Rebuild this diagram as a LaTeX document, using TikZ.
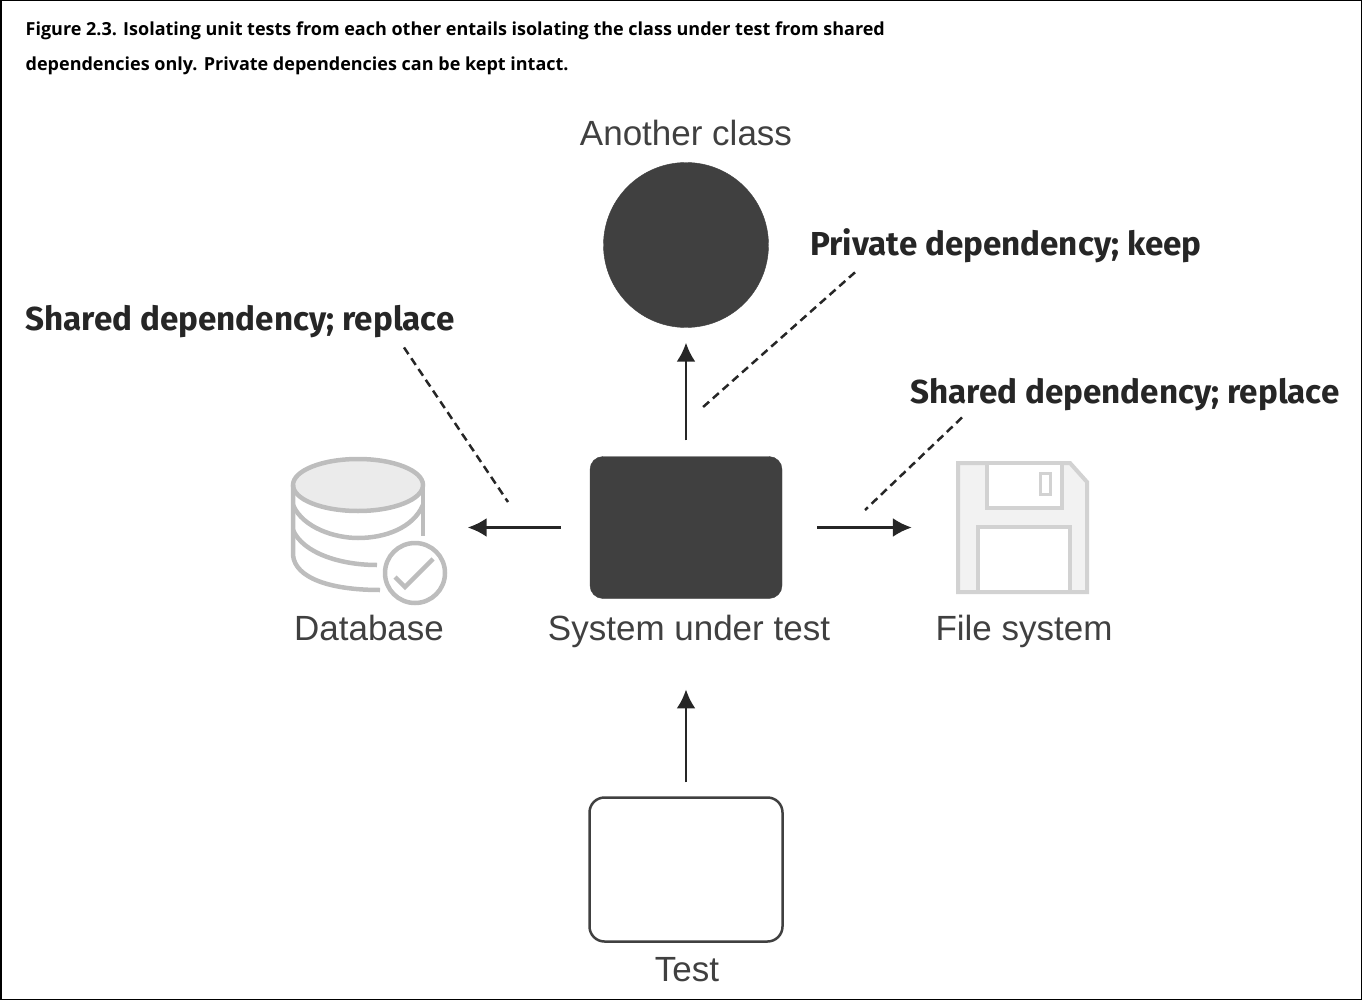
\documentclass[tikz,border=0pt]{standalone}
\usepackage{fontspec}
\setmainfont{Liberation Sans}
\newfontfamily\captionfont{Open Sans}
\newfontfamily\notefont{Fira Sans}
\usetikzlibrary{positioning}
\usetikzlibrary{arrows.meta}
\definecolor{darkfill}{HTML}{404040}
\definecolor{dbgrey}{HTML}{BDBDBD}
\definecolor{floppygrey}{HTML}{D2D2D2}
\tikzset{
  solidbox/.style={draw=darkfill, fill=darkfill, rounded corners=13pt, minimum width=192pt, minimum height=142pt, inner sep=0pt},
  emptybox/.style={draw=darkfill, line width=2.5pt, fill=white, rounded corners=15pt, minimum width=193pt, minimum height=144pt, inner sep=0pt},
  iconspace/.style={inner sep=0pt, minimum width=155pt, minimum height=145pt},
  caption/.style={inner sep=0pt, anchor=base west, font=\captionfont\bfseries\fontsize{18pt}{22pt}\selectfont},
  label/.style={inner sep=0pt, anchor=base, text=darkfill, font=\fontsize{35pt}{38pt}\selectfont},
  note/.style={inner sep=0pt, text=black!85, font=\notefont\bfseries\fontsize{33.2pt}{38pt}\selectfont},
  arrow/.style={draw=black!85, line width=2.5pt, -{Latex[length=19pt,width=19pt]}},
  leader/.style={draw=black!85, line width=2.5pt, dash pattern=on 8pt off 5pt},
}
\begin{document}
\begin{tikzpicture}[x=1pt,y=-1pt]
  \useasboundingbox (0,0) rectangle (1362,1000);
  \draw [black, line width=1.5pt] (0.75,0.75) rectangle (1361.25,999.25);
  % caption
  \node [caption] (captiontop) at (25.5,36) {Figure 2.3. Isolating unit tests from each other entails isolating the class under test from shared};
  \node [caption] (captionbottom) at (25.5,71) {dependencies only. Private dependencies can be kept intact.};
  % classes
  \node [circle, draw=darkfill, fill=darkfill, minimum size=165pt, inner sep=0pt] (another) at (686,245) {};
  \node [label] (anotherlabel) at (686,146) {Another class};
  \node [solidbox] (sut) at (686,527.5) {};
  \node [label] (sutlabel) at (689,640) {System under test};
  \node [emptybox] (test) at (686,869.5) {};
  \node [label] (testlabel) at (687,981) {Test};
  \node [iconspace] (database) at (369,530) {};
  \node [label] (databaselabel) at (369,640) {Database};
  \node [iconspace, minimum width=130pt] (files) at (1023,527.5) {};
  \node [label] (fileslabel) at (1024,640) {File system};
  % database icon
  \begin{scope}[draw=dbgrey, line width=4.5pt]
    \draw [fill=black!8] (358,485) ellipse (65 and 26);
    \draw (293,485) -- (293,555) .. controls (295,578) and (330,590) .. (380,590);
    \draw (293,530) .. controls (303,553) and (340,565) .. (377,565);
    \draw (293,505) .. controls (303,528) and (335,538) .. (358,538) .. controls (385,538) and (413,528) .. (423,505);
    \draw (423,485) -- (423,536);
    \draw [fill=white] (415,573) circle (30);
    \draw (395,577) -- (405,587) -- (433,559);
  \end{scope}
  % floppy icon
  \begin{scope}[draw=floppygrey, line width=4pt]
    \draw [fill=black!5] (958,463) -- (1070,463) -- (1087,482) -- (1087,592) -- (958,592) -- cycle;
    \draw [fill=white] (987,463) rectangle (1062,508);
    \draw [line width=3pt] (1040,473) rectangle (1050,494);
    \draw [fill=white] (978,527) rectangle (1070,592);
  \end{scope}
  % arrows
  \draw [arrow, shorten <=16pt, shorten >=15pt] (sut) -- (another);
  \draw [arrow, shorten <=29pt, shorten >=21pt] (sut.west) -- (database.east |- sut.west);
  \draw [arrow, shorten <=35pt, shorten >=46pt] (sut.east) -- (files.west |- sut.east);
  \draw [arrow, shorten <=14pt, shorten >=42pt] (test.north) -- (sutlabel.south -| test.north);
  % notes
  \node [note] (privatenote) at (1006,246) {Private dependency; keep};
  \node [note] (leftnote) at (240,322) {Shared dependency; replace};
  \node [note] (rightnote) at (1125,395) {Shared dependency; replace};
  \coordinate (privatetip) at (702,408);
  \coordinate (lefttip) at (508,502);
  \coordinate (righttip) at (865,510);
  \draw [leader] ([xshift=-151pt,yshift=-9pt]privatenote.south) -- (privatetip);
  \draw [leader] ([xshift=164pt,yshift=-9pt]leftnote.south) -- (lefttip);
  \draw [leader] ([xshift=-163pt,yshift=-6pt]rightnote.south) -- (righttip);
\end{tikzpicture}
\end{document}
